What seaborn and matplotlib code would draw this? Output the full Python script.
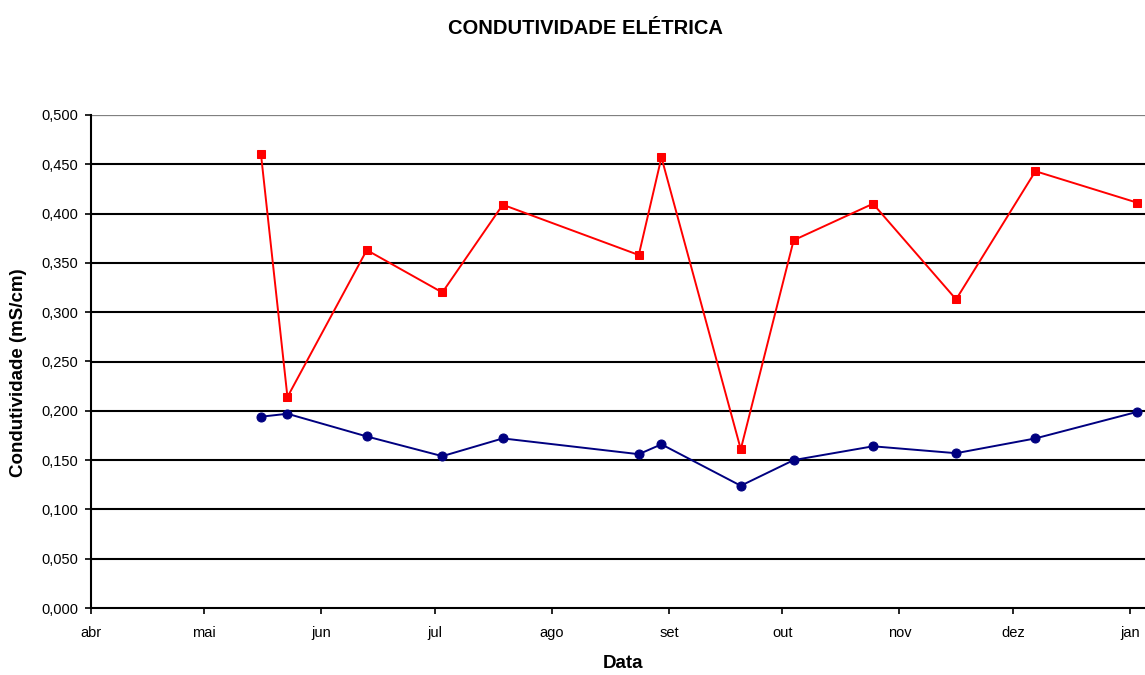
import matplotlib
matplotlib.use("Agg")
import matplotlib.pyplot as plt
from matplotlib.ticker import FuncFormatter, MultipleLocator
import seaborn as sns
import pandas as pd
import numpy as np

# sampling dates and conductivity readings (mS/cm)
datas = ['2007-05-16', '2007-05-23', '2007-06-13', '2007-07-03', '2007-07-19',
         '2007-08-24', '2007-08-30', '2007-09-20', '2007-10-04', '2007-10-25',
         '2007-11-16', '2007-12-07', '2008-01-03']
serie_vermelha = [0.460, 0.214, 0.363, 0.320, 0.409, 0.358, 0.457,
                  0.161, 0.373, 0.410, 0.313, 0.443, 0.411]
serie_azul = [0.194, 0.197, 0.174, 0.154, 0.172, 0.156, 0.166,
              0.124, 0.150, 0.164, 0.157, 0.172, 0.199]
meses = ['abr', 'mai', 'jun', 'jul', 'ago', 'set', 'out', 'nov', 'dez', 'jan']

sns.set_style("white")
plt.rcParams['font.family'] = ['Liberation Sans', 'DejaVu Sans']
plt.rcParams.update({'text.color': 'black', 'axes.labelcolor': 'black',
                     'xtick.color': 'black', 'ytick.color': 'black'})

df = pd.DataFrame({'data': pd.to_datetime(datas),
                   'vermelho': serie_vermelha,
                   'azul': serie_azul})

fig = plt.figure(figsize=(11.45, 6.75), dpi=100)
ax = fig.add_axes([91 / 1145, 1 - 608 / 675, 1 - 91 / 1145, (608 - 115) / 675])

for y in np.arange(0.05, 0.501, 0.05):
    ax.axhline(y, color='black', lw=1.5, zorder=0)
ax.axhline(0.5, color='#808080', lw=1.5, zorder=0)

sns.lineplot(data=df, x='data', y='vermelho', ax=ax, color='#FF0000',
             marker='s', markersize=6, markeredgecolor='#FF0000', lw=1.4)
sns.lineplot(data=df, x='data', y='azul', ax=ax, color='#000080',
             marker='o', markersize=6.5, markeredgecolor='#000080', lw=1.4)

ax.set_ylim(0, 0.5)
ax.set_xlim(pd.Timestamp('2007-04-01'), pd.Timestamp('2008-01-05'))
ax.yaxis.set_major_locator(MultipleLocator(0.05))
ax.yaxis.set_major_formatter(FuncFormatter(lambda v, p: f"{v:.3f}".replace('.', ',')))

ticks = pd.date_range('2007-04-01', '2008-01-01', freq='MS')
ax.set_xticks(ticks)
ax.set_xticklabels(meses)

for s in ['top', 'right']:
    ax.spines[s].set_visible(False)
for s in ['left', 'bottom']:
    ax.spines[s].set_color('black')
    ax.spines[s].set_linewidth(1.5)

ax.tick_params(axis='both', direction='out', length=4, width=1.2, colors='black',
               labelsize=10.5, bottom=True, left=True)
ax.tick_params(axis='x', pad=9)
ax.tick_params(axis='y', pad=5)

ax.set_xlabel('Data', fontsize=13.5, fontweight='bold')
ax.set_ylabel('Condutividade (mS/cm)', fontsize=13.5, fontweight='bold')
ax.xaxis.set_label_coords((623 - 91) / (1145 - 91), -(655 - 608) / (608 - 115))
ax.yaxis.set_label_coords(-(91 - 27) / (1145 - 91), (608 - 373) / (608 - 115))
fig.text(585 / 1145, 1 - 28 / 675, 'CONDUTIVIDADE ELÉTRICA', ha='center', va='center',
         fontsize=14.5, fontweight='bold')

fig.savefig('out.png', dpi=100)
